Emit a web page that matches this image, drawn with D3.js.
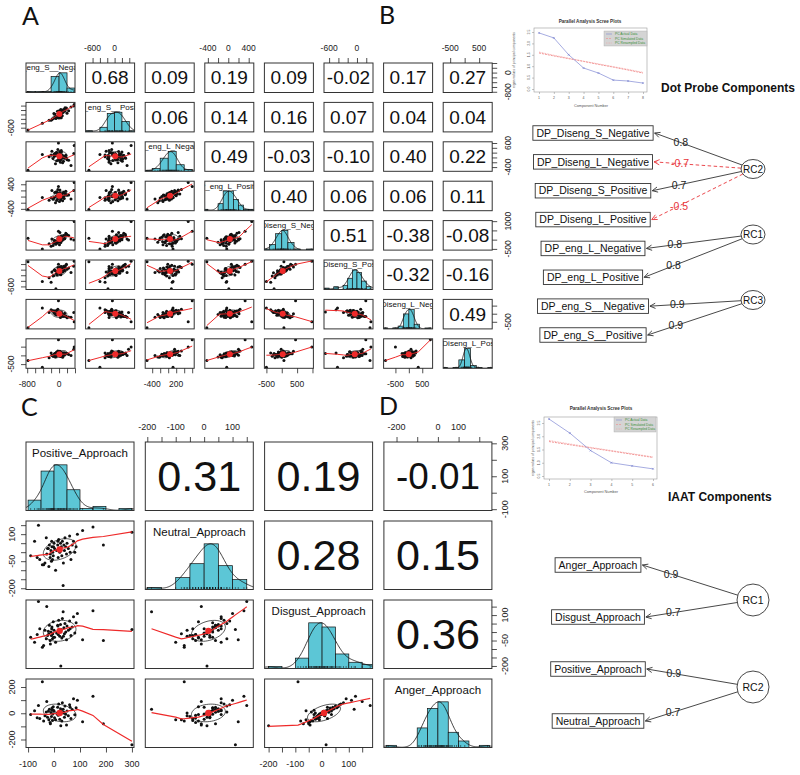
<!DOCTYPE html>
<html>
<head>
<meta charset="utf-8">
<script src="https://cdn.jsdelivr.net/npm/d3@7/dist/d3.min.js"></script>
<style>
html,body{margin:0;padding:0;background:#fff;}
svg{display:block;}
</style>
</head>
<body>
<svg id="chart" width="800" height="775" xmlns="http://www.w3.org/2000/svg"></svg>
<script>
// ===================== DATA =====================
// Panel A: Dot Probe variables (one value per participant)
const dpNames = ["DP_eng_S__Negative","DP_eng_S__Positive","DP_eng_L_Negative","DP_eng_L_Positive",
                 "DP_Diseng_S_Negative","DP_Diseng_S_Positive","DP_Diseng_L_Negative","DP_Diseng_L_Positive"];
const dpEngSNeg = [-20,45,-110,80,150,-60,10,120,-180,35,-40,95,200,-130,60,-5,170,-90,25,-250,110,-30,70,-150,5,240,-70,130,-10,55,-200,90,15,-120,185,-45,300,-80,40,380,-780,-420,20,-60,140,65,-15,370];
const dpEngSPos = [40,20,20,-60,300,-80,-50,220,-230,-150,140,130,50,40,200,-160,250,-100,-40,-260,210,-80,90,-190,170,170,-110,170,80,-150,-260,90,130,-150,290,-140,340,-180,220,450,-700,-400,110,-150,150,60,-60,380];
const dpEngLNeg = [40,-80,160,100,-30,200,-130,50,260,-200,80,10,-100,120,230,-50,90,-260,170,30,-160,330,60,-40,130,-120,210,0,-80,290,100,-220,140,40,-10,180,-330,80,-60,500,-530,120,250,-140,50,-30,600,160];
const dpEngLPos = [50,-100,130,-10,90,30,-160,140,200,-50,-80,120,40,-40,80,10,170,-200,60,-120,0,230,-30,-90,100,50,160,-60,30,80,-40,-140,120,-30,60,130,-80,10,-50,460,-420,-30,210,-130,40,-10,330,200];
const dpDisSNeg = [110,-160,-40,70,200,-110,-270,230,40,90,-70,140,270,-200,0,-50,340,-140,-20,-220,130,50,160,-310,20,220,-90,70,-130,180,-360,0,110,-50,290,-180,40,-250,140,980,70,-500,380,-110,50,-40,450,-20];
const dpDisSPos = [30,-180,0,-65,95,-145,-115,125,-80,45,-130,60,15,-210,-20,-100,160,-35,-160,-290,-50,80,0,-225,-35,60,-65,30,-115,110,-450,-80,15,-20,190,-195,-100,-680,-20,300,280,-420,95,-145,-35,-80,190,125];
const dpDisLNeg = [50,-100,150,-50,-150,220,80,-120,200,-230,30,-80,-250,180,100,0,-170,-50,120,80,-150,270,-30,150,20,-200,170,-80,0,50,250,-150,80,30,-180,120,-220,100,-100,-500,-870,350,0,-80,30,-50,800,80];
const dpDisLPos = [70,-10,110,10,130,190,30,150,10,-70,90,-30,110,50,170,-10,90,-90,210,-130,70,250,30,-50,130,50,150,10,70,-10,130,-110,170,-30,90,30,-10,110,50,480,-300,-680,230,-30,70,150,900,350];
// correlations shown in the upper panels (row by row)
const dpCorr = [
  [0.68,0.09,0.19,0.09,-0.02,0.17,0.27],
  [0.06,0.14,0.16,0.07,0.04,0.04],
  [0.49,-0.03,-0.10,0.40,0.22],
  [0.40,0.06,0.06,0.11],
  [0.51,-0.38,-0.08],
  [-0.32,-0.16],
  [0.49]
];
const dpDomains = [[-830,400],[-790,545],[-575,650],[-460,500],[-565,1030],[-710,345],[-940,885],[-740,950]];
const dpTicks = [[-800,-600,-400,-200,0,200,400],[-600,-400,-200,0,200,400],[-400,-200,0,200,400,600],[-400,-200,0,200,400],
                 [-500,0,500,1000],[-600,-400,-200,0,200],[-500,0,500],[-500,0,500]];
const dpXLabels = [[-800,0],[-600,0],[-400,200],[-400,0,400],[-500,500],[-600,0],[-500,500],[-500,500]];
const dpYLabels = [[-800,0],[-600],[-400,600],[-400,400],[-500,1000],[-600],[-500],[-500]];

// Panel C/D: IAAT variables
const iaatNames = ["Positive_Approach","Neutral_Approach","Disgust_Approach","Anger_Approach"];
const iaatPositive = [-90,-75,-60,-55,-40,-35,-30,-28,-25,-20,-18,-15,-12,-10,-8,-5,-3,0,2,-6,-9,10,-14,14,16,18,20,22,25,28,30,32,35,38,40,42,45,48,50,55,60,65,70,75,80,85,90,110,150,190,300,-45,-65,-22,6,26,36,15,-2,62];
const iaatNeutral = [-20,60,150,-40,-70,-60,80,-10,20,-80,40,-30,10,-50,30,0,-20,50,20,-40,60,10,-10,40,-30,70,20,0,50,30,-20,60,-185,40,10,80,30,-10,50,20,90,-40,40,60,0,30,100,120,140,40,110,-70,-30,20,-100,10,-60,60,30,0];
const iaatDisgust = [-30,-60,180,20,-80,10,-40,150,-20,-10,40,-50,0,-20,30,-10,60,10,-30,-40,20,-5,-70,40,-15,70,5,-25,45,15,-35,80,120,25,-10,50,0,-45,35,10,65,-20,30,90,-5,55,110,-45,125,-50,15,-90,-15,5,-60,-200,-25,35,-30,20];
const iaatAnger = [-10,20,60,-40,-60,-20,10,90,-30,-50,30,-70,5,-25,40,-5,50,15,-35,-55,25,0,-80,45,-15,70,12,-45,35,20,-60,80,30,8,-30,55,-8,-90,18,-20,65,-40,28,110,-12,42,100,-65,130,-80,-240,240,-35,15,-50,-95,2,-10,22,45];
const iaatCorr = [[0.31,0.19,-0.01],[0.28,0.15],[0.36]];
const iaatDomains = [[-108,308],[-207,173],[-215,189],[-261,261]];
const iaatTicks = [[-100,0,100,200,300],[-200,-150,-100,-50,0,50,100,150],[-200,-150,-100,-50,0,50,100,150],[-200,-100,0,100,200]];
const iaatXLabels = [[-100,0,100,200,300],[-200,-100,0,100],[-200,-100,0,100],[-200,0,100]];
const iaatYLabels = [[-100,100,300],[-200,-50,100],[-200,-50,100],[-200,0,200]];

// Scree plots (parallel analysis)
const dpScreeActual = [2.46,2.24,1.50,0.92,0.70,0.39,0.35,0.26];
const dpScreeSim    = [1.58,1.45,1.33,1.21,1.08,0.96,0.83,0.70];
const dpScreeResamp = [1.62,1.48,1.35,1.22,1.10,0.98,0.86,0.73];
const dpScreeTicks  = [0,0.5,1,1.5,2,2.5];
const iaatScreeActual = [2.65,2.12,1.46,1.00,0.88,0.77];
const iaatScreeSim    = [1.80,1.68,1.56,1.44,1.32,1.20];
const iaatScreeResamp = [1.84,1.71,1.58,1.46,1.34,1.22];
const iaatScreeTicks  = [0.5,1,1.5,2,2.5];
const screeLegend = ["PC  Actual Data","PC  Simulated Data","PC  Resampled Data"];

// Component diagrams
const dpItems = ["DP_Diseng_S_Negative","DP_Diseng_L_Negative","DP_Diseng_S_Positive","DP_Diseng_L_Positive",
                 "DP_eng_L_Negative","DP_eng_L_Positive","DP_eng_S__Negative","DP_eng_S__Positive"];
const dpItemFactor = ["RC2","RC2","RC2","RC2","RC1","RC1","RC3","RC3"];
const dpLoadings = [0.8,-0.7,0.7,-0.5,0.8,0.8,0.9,0.9];
const dpFactors = ["RC2","RC1","RC3"];
const iaatItems = ["Anger_Approach","Disgust_Approach","Positive_Approach","Neutral_Approach"];
const iaatItemFactor = ["RC1","RC1","RC2","RC2"];
const iaatLoadings = [0.9,0.7,0.9,0.7];
const iaatFactors = ["RC1","RC2"];

// ===================== HELPERS =====================
const FONT = "'Liberation Sans', Arial, Helvetica, sans-serif";
const RED = "#ee2a2a";
const CYAN = "#5cc6d6";
const svg = d3.select("#chart");
svg.append("rect").attr("width",800).attr("height",775).attr("fill","#fff");
const defs = svg.append("defs");

function lowess(x, y, f = 2/3, iter = 3) {
  const n = x.length;
  const idx = d3.range(n).sort((a,b)=>x[a]-x[b]);
  const xs = idx.map(i=>x[i]), ys = idx.map(i=>y[i]);
  const r = Math.max(2, Math.min(n, Math.round(f*n)));
  let rw = new Array(n).fill(1);
  const fit = new Array(n);
  for (let it = 0; it <= iter; it++) {
    for (let i = 0; i < n; i++) {
      const d = xs.map(v=>Math.abs(v-xs[i])).sort((a,b)=>a-b);
      const h = Math.max(d[r-1], 1e-9) * 1.0001;
      let sw=0, sx=0, sy=0, sxx=0, sxy=0;
      for (let j = 0; j < n; j++) {
        const u = Math.abs(xs[j]-xs[i])/h;
        if (u >= 1) continue;
        const w = Math.pow(1-u*u*u,3)*rw[j];
        sw+=w; sx+=w*xs[j]; sy+=w*ys[j]; sxx+=w*xs[j]*xs[j]; sxy+=w*xs[j]*ys[j];
      }
      if (sw <= 0) { fit[i] = ys[i]; continue; }
      const mx = sx/sw, my = sy/sw, vx = sxx/sw - mx*mx;
      fit[i] = vx > 1e-9 ? my + (sxy/sw - mx*my)/vx*(xs[i]-mx) : my;
    }
    if (it === iter) break;
    const res = ys.map((v,i)=>v-fit[i]);
    const c = 6*d3.median(res.map(Math.abs));
    rw = res.map(e => { if (!(c>0)) return 1; const u = Math.abs(e)/c; return u < 1 ? (1-u*u)*(1-u*u) : 0; });
  }
  return xs.map((v,i)=>[v, fit[i]]);
}

function kde(v) {
  const n = v.length, s = v.slice().sort(d3.ascending);
  const sd = d3.deviation(s);
  const iqr = d3.quantile(s,0.75) - d3.quantile(s,0.25);
  let lo = Math.min(sd, iqr/1.34); if (!(lo > 0)) lo = sd;
  const bw = 1.06*lo*Math.pow(n,-0.2)*1.2;
  const a = s[0]-3*bw, b = s[n-1]+3*bw;
  const xs = d3.range(201).map(t=>a+(b-a)*t/200);
  const ys = xs.map(x=>d3.sum(s, d=>Math.exp(-0.5*((x-d)/bw)**2)));
  const m = d3.max(ys);
  return xs.map((x,i)=>[x, ys[i]/m]);
}

function pearson(a, b) {
  const ma = d3.mean(a), mb = d3.mean(b);
  let sab=0, saa=0, sbb=0;
  for (let i=0;i<a.length;i++){ const da=a[i]-ma, db=b[i]-mb; sab+=da*db; saa+=da*da; sbb+=db*db; }
  return sab/Math.sqrt(saa*sbb);
}

function ellipsePts(mx,my,sx,sy,r) {
  const th = (r === 0 ? 1 : Math.sign(r))/Math.SQRT2;
  const a = Math.sqrt(1+r), b = Math.sqrt(Math.max(0,1-r));
  return d3.range(52).map(s => {
    const ang = s*2*Math.PI/51, u = Math.cos(ang), w = Math.sin(ang);
    return [mx + (u*a*th - w*b*th)*sx, my + (u*a*th + w*b*th)*sy];
  });
}

function sideAxis(root, side, scale, pos, ticks, labels, opt) {
  const fn = {top:d3.axisTop, bottom:d3.axisBottom, left:d3.axisLeft, right:d3.axisRight}[side];
  const horiz = side==="top" || side==="bottom";
  const g = root.append("g").attr("transform", horiz ? `translate(0,${pos})` : `translate(${pos},0)`)
    .call(fn(scale).tickValues(ticks).tickSize(opt.tick).tickSizeOuter(0).tickFormat(()=>""));
  g.select(".domain").remove();
  g.selectAll(".tick text").remove();
  g.selectAll(".tick line").attr("stroke","#222").attr("stroke-width",0.8);
  const lab = root.append("g").style("font-family",FONT).style("font-size",opt.font+"px").attr("fill","#222");
  if (horiz) {
    lab.selectAll("text").data(labels).join("text")
      .attr("x", d=>scale(d)).attr("y", side==="top" ? pos-opt.off : pos+opt.off)
      .attr("dy","0.35em").attr("text-anchor","middle").text(d=>String(d));
  } else {
    const cx = side==="left" ? pos-opt.off : pos+opt.off;
    lab.selectAll("text").data(labels).join("text")
      .attr("transform", d=>`translate(${cx},${scale(d)}) rotate(-90)`)
      .attr("dy","0.35em").attr("text-anchor","middle").text(d=>String(d));
  }
}

function drawPairs(root, cfg) {
  const k = cfg.vars.length, n = cfg.vars[0].length;
  const xS = cfg.vars.map((_,j)=>d3.scaleLinear().domain(cfg.domains[j]).range([cfg.x0+j*cfg.px, cfg.x0+j*cfg.px+cfg.w]));
  const yS = cfg.vars.map((_,i)=>d3.scaleLinear().domain(cfg.domains[i]).range([cfg.y0+i*cfg.py+cfg.h, cfg.y0+i*cfg.py]));
  for (let i=0;i<k;i++) for (let j=0;j<k;j++) {
    const cx = cfg.x0+j*cfg.px, cy = cfg.y0+i*cfg.py;
    const id = `${cfg.id}-${i}-${j}`;
    defs.append("clipPath").attr("id",id).append("rect").attr("x",cx).attr("y",cy).attr("width",cfg.w).attr("height",cfg.h);
    const cell = root.append("g").attr("clip-path",`url(#${id})`);
    if (i === j) {
      const v = cfg.vars[i];
      const [lo,hi] = d3.extent(v);
      const step = d3.tickStep(lo, hi, Math.ceil(Math.log2(n)+1));
      const b0 = Math.floor(lo/step)*step, b1 = Math.ceil(hi/step)*step;
      const breaks = d3.range(b0, b1+step/2, step);
      const bins = d3.bin().domain([b0,b1]).thresholds(breaks.slice(1,-1))(v);
      const maxC = d3.max(bins, b=>b.length);
      const hy = d3.scaleLinear().domain([0,1.5]).range([cy+cfg.h, cy]);
      cell.selectAll("rect.bar").data(bins).join("rect").attr("class","bar")
        .attr("x", b=>xS[j](b.x0)).attr("width", b=>xS[j](b.x1)-xS[j](b.x0))
        .attr("y", b=>hy(b.length/maxC)).attr("height", b=>hy(0)-hy(b.length/maxC))
        .attr("fill",CYAN).attr("stroke","#111").attr("stroke-width",0.7);
      cell.append("path").attr("d", d3.line().x(d=>xS[j](d[0])).y(d=>hy(d[1]))(kde(v)))
        .attr("fill","none").attr("stroke","#111").attr("stroke-width",0.8);
      cell.selectAll("line.rug").data(v).join("line").attr("class","rug")
        .attr("x1",d=>xS[j](d)).attr("x2",d=>xS[j](d)).attr("y1",hy(0)).attr("y2",hy(0)-cfg.rug)
        .attr("stroke","#111").attr("stroke-width",0.5);
      cell.append("text").attr("x",cx+cfg.w/2).attr("y",cy+cfg.h*0.155).attr("dy","0.35em")
        .attr("text-anchor","middle").style("font-family",FONT).style("font-size",cfg.nameSize+"px")
        .attr("fill","#111").text(cfg.names[i]);
    } else if (j > i) {
      const val = cfg.corr[i][j-i-1];
      const t = cell.append("text").attr("x",cx+cfg.w/2).attr("y",cy+cfg.h/2).attr("dy","0.35em")
        .attr("text-anchor","middle").style("font-family",FONT).attr("fill","#111")
        .style("font-size", (cfg.corrSize || 40)+"px").text(val.toFixed(2));
      if (!cfg.corrSize) {
        const L = t.node().getComputedTextLength();
        t.style("font-size", (40*cfg.corrWidth/L)+"px");
      }
    } else {
      const xv = cfg.vars[j], yv = cfg.vars[i];
      cell.selectAll("circle.pt").data(d3.range(n)).join("circle").attr("class","pt")
        .attr("cx", s=>xS[j](xv[s])).attr("cy", s=>yS[i](yv[s])).attr("r",cfg.dotR).attr("fill","#111");
      const r = pearson(xv,yv);
      const mx = d3.mean(xv), my = d3.mean(yv), sx = d3.deviation(xv), sy = d3.deviation(yv);
      cell.append("path").attr("d", d3.line().x(d=>xS[j](d[0])).y(d=>yS[i](d[1]))(ellipsePts(mx,my,sx,sy,r)))
        .attr("fill","none").attr("stroke","#111").attr("stroke-width",0.7);
      cell.append("path").attr("d", d3.line().x(d=>xS[j](d[0])).y(d=>yS[i](d[1]))(lowess(xv,yv)))
        .attr("fill","none").attr("stroke",RED).attr("stroke-width",cfg.lineW);
      cell.append("circle").attr("cx",xS[j](mx)).attr("cy",yS[i](my)).attr("r",cfg.meanR).attr("fill",RED);
    }
    root.append("rect").attr("x",cx).attr("y",cy).attr("width",cfg.w).attr("height",cfg.h)
      .attr("fill","none").attr("stroke","#333").attr("stroke-width",1);
  }
  const top = cfg.y0, bottom = cfg.y0+(k-1)*cfg.py+cfg.h, left = cfg.x0, right = cfg.x0+(k-1)*cfg.px+cfg.w;
  for (let j=0;j<k;j++) {
    if (j%2===1) sideAxis(root,"top",xS[j],top,cfg.ticks[j],cfg.xLabels[j],{tick:5,off:cfg.off.top,font:cfg.axisFont});
    else sideAxis(root,"bottom",xS[j],bottom,cfg.ticks[j],cfg.xLabels[j],{tick:5,off:cfg.off.bottom,font:cfg.axisFont});
  }
  for (let i=0;i<k;i++) {
    if (i%2===1) sideAxis(root,"left",yS[i],left,cfg.ticks[i],cfg.yLabels[i],{tick:5,off:cfg.off.left,font:cfg.axisFont});
    else sideAxis(root,"right",yS[i],right,cfg.ticks[i],cfg.yLabels[i],{tick:5,off:cfg.off.right,font:cfg.axisFont});
  }
}

function drawScree(root, c) {
  const n = c.actual.length;
  const x = d3.scaleLinear().domain([1,n]).range(c.xr);
  const y = d3.scaleLinear().domain(c.yd).range(c.yr);
  const [bx0,by0,bx1,by1] = c.box;
  root.append("rect").attr("x",bx0).attr("y",by0).attr("width",bx1-bx0).attr("height",by1-by0)
    .attr("fill","none").attr("stroke","#9a9a9a").attr("stroke-width",0.6);
  const gx = root.append("g").attr("transform",`translate(0,${by1})`)
    .call(d3.axisBottom(x).tickValues(d3.range(1,n+1)).tickSize(2).tickSizeOuter(0).tickFormat(()=>""));
  gx.select(".domain").remove(); gx.selectAll(".tick text").remove();
  gx.selectAll("line").attr("stroke","#888").attr("stroke-width",0.5);
  const gy = root.append("g").attr("transform",`translate(${bx0},0)`)
    .call(d3.axisLeft(y).tickValues(c.yTicks).tickSize(2).tickSizeOuter(0).tickFormat(()=>""));
  gy.select(".domain").remove(); gy.selectAll(".tick text").remove();
  gy.selectAll("line").attr("stroke","#888").attr("stroke-width",0.5);
  const tg = root.append("g").style("font-family",FONT).attr("fill","#555");
  tg.selectAll("text.xl").data(d3.range(1,n+1)).join("text").attr("class","xl")
    .attr("x",d=>x(d)).attr("y",by1+6).attr("dy","0.35em").attr("text-anchor","middle").style("font-size","3.5px").text(d=>d);
  tg.selectAll("text.yl").data(c.yTicks).join("text").attr("class","yl")
    .attr("transform",d=>`translate(${bx0-5},${y(d)}) rotate(-90)`).attr("dy","0.35em")
    .attr("text-anchor","middle").style("font-size","3.5px").text(d=>d.toFixed(1));
  tg.append("text").attr("x",c.title[0]).attr("y",c.title[1]).attr("text-anchor","middle")
    .style("font-size","4.6px").style("font-weight","bold").attr("fill","#333").text("Parallel Analysis Scree Plots");
  tg.append("text").attr("x",c.xTitle[0]).attr("y",c.xTitle[1]).attr("text-anchor","middle")
    .style("font-size","3.8px").text("Component Number");
  tg.append("text").attr("transform",`translate(${c.yTitle[0]},${c.yTitle[1]}) rotate(-90)`).attr("text-anchor","middle")
    .style("font-size","3.4px").text("eigen values of principal components");
  const line = d3.line().x((d,i)=>x(i+1)).y(d=>y(d));
  root.append("path").attr("d",line(c.sim)).attr("fill","none").attr("stroke","#f08a8a").attr("stroke-width",0.9).attr("stroke-dasharray","2,1");
  root.append("path").attr("d",line(c.resamp)).attr("fill","none").attr("stroke","#f4a0a0").attr("stroke-width",0.9).attr("stroke-dasharray","0.8,0.8");
  root.append("path").attr("d",line(c.actual)).attr("fill","none").attr("stroke","#8088d4").attr("stroke-width",0.7);
  root.selectAll(null).data(c.actual).join("path")
    .attr("d",(d,i)=>{const px=x(i+1),py=y(d);return `M${px-1},${py-1}L${px+1},${py+1}M${px-1},${py+1}L${px+1},${py-1}`;})
    .attr("stroke","#6a74c8").attr("stroke-width",0.5);
  const [lx0,ly0,lx1,ly1] = c.legend;
  root.append("rect").attr("x",lx0).attr("y",ly0).attr("width",lx1-lx0).attr("height",ly1-ly0)
    .attr("fill","#d4d4d4").attr("stroke","#aaa").attr("stroke-width",0.4);
  const ly = d3.scalePoint().domain(screeLegend).range([ly0+3,ly1-3]);
  const lcol = ["#7c86d2","#f08a8a","#f4a0a0"];
  const ldash = [null,"2,1","0.8,0.8"];
  screeLegend.forEach((s,i)=>{
    root.append("line").attr("x1",lx0+2).attr("x2",lx0+8).attr("y1",ly(s)).attr("y2",ly(s))
      .attr("stroke",lcol[i]).attr("stroke-width",0.6).attr("stroke-dasharray",ldash[i]);
    root.append("text").attr("x",lx0+11).attr("y",ly(s)).attr("dy","0.35em").style("font-family",FONT)
      .style("font-size","3.3px").attr("fill","#3a8f3a").text(s);
  });
}

function fmtLoad(v){ return (v<0?"-":"") + Math.abs(v).toFixed(1); }

function drawDiagram(root, c) {
  const boxes = [];
  c.items.forEach((name,i)=>{
    const y = c.itemY(i);
    const g = root.append("g");
    const t = g.append("text").attr("x",c.boxCx).attr("y",y).attr("dy","0.35em").attr("text-anchor","middle")
      .style("font-family",FONT).style("font-size",c.font+"px").attr("fill","#111").text(name);
    const bw = t.node().getComputedTextLength() + 7;
    g.insert("rect","text").attr("x",c.boxCx-bw/2).attr("y",y-c.boxH/2).attr("width",bw).attr("height",c.boxH)
      .attr("fill","#fff").attr("stroke","#333").attr("stroke-width",0.9);
    boxes.push({right:c.boxCx+bw/2, y});
  });
  const fpos = {};
  c.factors.forEach((f,i)=>{
    const cy = c.factorY(i);
    fpos[f] = [c.circleCx, cy];
    root.append("ellipse").attr("cx",c.circleCx).attr("cy",cy).attr("rx",c.rx).attr("ry",c.ry)
      .attr("fill","#fff").attr("stroke","#333").attr("stroke-width",0.9);
    root.append("text").attr("x",c.circleCx).attr("y",cy).attr("dy","0.35em").attr("text-anchor","middle")
      .style("font-family",FONT).style("font-size",c.ffont+"px").attr("fill","#111").text(f);
  });
  c.items.forEach((name,i)=>{
    const [fx,fy] = fpos[c.itemFactor[i]];
    const ex = boxes[i].right + 1.5, ey = boxes[i].y;
    const dx = ex-fx, dy = ey-fy;
    const t = 1/Math.sqrt((dx/c.rx)**2 + (dy/c.ry)**2);
    const sx = fx+dx*t, sy = fy+dy*t;
    const neg = c.loads[i] < 0;
    const col = neg ? "#e8343a" : "#333";
    root.append("line").attr("x1",sx).attr("y1",sy).attr("x2",ex).attr("y2",ey)
      .attr("stroke",col).attr("stroke-width",0.9).attr("stroke-dasharray",neg?"3.5,2.5":null);
    const ang = Math.atan2(sy-ey, sx-ex), L = 6, sp = 0.45;
    root.append("path").attr("d",`M${ex+L*Math.cos(ang+sp)},${ey+L*Math.sin(ang+sp)}L${ex},${ey}L${ex+L*Math.cos(ang-sp)},${ey+L*Math.sin(ang-sp)}`)
      .attr("fill","none").attr("stroke",col).attr("stroke-width",0.9);
    const lx = ex + 0.3*(sx-ex), ly = ey + 0.3*(sy-ey);
    root.append("text").attr("x",lx).attr("y",ly).attr("dy","0.35em").attr("text-anchor","middle")
      .style("font-family",FONT).style("font-size",c.font+"px").attr("fill",neg?"#e8343a":"#222").text(fmtLoad(c.loads[i]));
  });
}

// ===================== DRAW =====================
const letters = svg.append("g").style("font-family","Lato, 'Open Sans', sans-serif").style("font-size","25px").attr("fill","#111");
[["A",22,25],["B",379,24],["C",21,416],["D",379,415]].forEach(([t,x,y])=>letters.append("text").attr("x",x).attr("y",y).text(t));

drawPairs(svg.append("g"), {
  id:"pa", vars:[dpEngSNeg,dpEngSPos,dpEngLNeg,dpEngLPos,dpDisSNeg,dpDisSPos,dpDisLNeg,dpDisLPos],
  names:dpNames, domains:dpDomains, corr:dpCorr, ticks:dpTicks, xLabels:dpXLabels, yLabels:dpYLabels,
  x0:26, px:59.6, w:49, y0:63, py:39.4, h:29.5,
  dotR:1.5, meanR:3, lineW:1, nameSize:8, corrSize:19, rug:1.5, axisFont:8.5,
  off:{top:15,bottom:16,left:15,right:16}
});

drawPairs(svg.append("g"), {
  id:"pc", vars:[iaatPositive,iaatNeutral,iaatDisgust,iaatAnger],
  names:iaatNames, domains:iaatDomains, corr:iaatCorr, ticks:iaatTicks, xLabels:iaatXLabels, yLabels:iaatYLabels,
  x0:26, px:119.3, w:108, y0:442, py:79, h:68.5,
  dotR:1.5, meanR:3.2, lineW:1.2, nameSize:11.5, corrSize:null, corrWidth:84, rug:2.5, axisFont:9,
  off:{top:15,bottom:16,left:14,right:13}
});

drawScree(svg.append("g"), {
  actual:dpScreeActual, sim:dpScreeSim, resamp:dpScreeResamp, yTicks:dpScreeTicks,
  xr:[539,643], yd:[0,2.5], yr:[89,32], box:[534,28,647,92],
  title:[590,23], xTitle:[591,107], yTitle:[515,60], legend:[604,31,647,46]
});
drawScree(svg.append("g"), {
  actual:iaatScreeActual, sim:iaatScreeSim, resamp:iaatScreeResamp, yTicks:iaatScreeTicks,
  xr:[549,653], yd:[0.5,2.5], yr:[476,423], box:[544,417,657,479],
  title:[601,410], xTitle:[601,493], yTitle:[534,448], legend:[614,417,656,432]
});

svg.append("text").attr("x",661).attr("y",88).attr("dy","0.35em").style("font-family",FONT)
  .style("font-size","12px").style("font-weight","bold").attr("fill","#111").text("Dot Probe Components");
svg.append("text").attr("x",668).attr("y",497).attr("dy","0.35em").style("font-family",FONT)
  .style("font-size","12px").style("font-weight","bold").attr("fill","#111").text("IAAT Components");

drawDiagram(svg.append("g"), {
  items:dpItems, itemFactor:dpItemFactor, loads:dpLoadings, factors:dpFactors,
  itemY:d3.scaleLinear().domain([0,dpItems.length-1]).range([133,335]),
  factorY:d3.scaleLinear().domain([0,dpFactors.length-1]).range([169,300]),
  boxCx:593, boxH:14.5, circleCx:753, rx:12, ry:9.5, font:10.5, ffont:10
});
drawDiagram(svg.append("g"), {
  items:iaatItems, itemFactor:iaatItemFactor, loads:iaatLoadings, factors:iaatFactors,
  itemY:d3.scaleLinear().domain([0,iaatItems.length-1]).range([565,721]),
  factorY:d3.scaleLinear().domain([0,iaatFactors.length-1]).range([600,687]),
  boxCx:598, boxH:14.5, circleCx:753, rx:16, ry:16, font:10.5, ffont:10.5
});
</script>
</body>
</html>
